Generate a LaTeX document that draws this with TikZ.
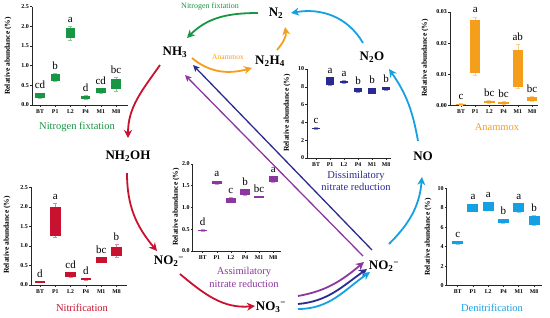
\documentclass[tikz,border=0pt]{standalone}
\usepackage{fontspec}
\setmainfont{Liberation Serif}
\usetikzlibrary{arrows.meta}
\definecolor{cgreen}{RGB}{24,150,68}
\definecolor{corange}{RGB}{245,158,27}
\definecolor{cred}{RGB}{200,18,48}
\definecolor{cpurple}{RGB}{140,55,160}
\definecolor{cnavy}{RGB}{42,42,145}
\definecolor{cblue}{RGB}{22,160,228}
\tikzset{
  chem/.style={font=\fontsize{13}{13}\selectfont\bfseries, inner sep=1pt},
  axisline/.style={line width=0.6pt, black!85},
  ticklab/.style={font=\fontsize{6}{6}\selectfont\bfseries, anchor=east, inner sep=1pt},
  catlab/.style={font=\fontsize{5.8}{5.8}\selectfont\bfseries, anchor=north, inner sep=1pt, yshift=-3pt},
  letlab/.style={font=\fontsize{11}{11}\selectfont, anchor=base, inner sep=0pt, yshift=4pt},
  ylab/.style={font=\fontsize{7.5}{7.5}\selectfont\bfseries, rotate=90, inner sep=0pt},
  ttl/.style={font=\fontsize{10.5}{12.5}\selectfont, align=center, inner sep=0pt},
  arr/.style={line width=1.8pt, -{Stealth[length=8pt,width=8pt,inset=2.5pt]}},
  sarr/.style={line width=1.3pt, -{Stealth[length=6.5pt,width=6pt,inset=1.5pt]}},
}
\newcommand{\yticks}[2]{%
  \foreach \v/\t [count=\k] in {#2}{%
    \draw[axisline] (0,\v) -- ++(-2pt,0pt);
    \node[ticklab] (#1-t\k) at ([xshift=-2pt]0,\v) {\t};
  }}
\newcommand{\cats}[3]{%
  \foreach \c [count=\k from 0] in {BT,P1,L2,P4,M1,M8}{%
    \draw[axisline] ({#2+\k*#3},0) -- ++(0pt,-1.5pt);
    \node[catlab] (#1-c\k) at ({#2+\k*#3},0) {\c};
  }}
\newcommand{\bars}[6]{%
  \foreach \lo/\hi/\wlo/\whi/\lt [count=\k from 0] in {#6}{%
    \pgfmathsetmacro\xx{#3+\k*#4}
    \pgfmathsetmacro\tp{max(\hi,\whi)}
    \draw[#2!50, line width=0.5pt] (\xx,\wlo) -- (\xx,\whi)
      (\xx-2,\wlo) -- (\xx+2,\wlo) (\xx-2,\whi) -- (\xx+2,\whi);
    \fill[#2] (\xx-#5,\lo) rectangle (\xx+#5,\hi);
    \node[letlab] (#1-l\k) at (\xx,\tp) {\lt};
  }}
\begin{document}
\begin{tikzpicture}[x=1pt,y=-1pt]
\useasboundingbox (0,0) rectangle (550,317);

% ---------- Nitrogen fixation chart ----------
\begin{scope}[shift={(32,105)}, y=39.3pt]
  \draw[axisline] (0,2.5) -- (0,0) -- (96,0);
  \yticks{nf}{0/0.0,0.5/0.5,1/1.0,1.5/1.5,2/2.0,2.5/2.5}
  \cats{nf}{8}{15.2}
  \bars{nf}{cgreen}{8}{15.2}{4.7}{0.17/0.31/0.17/0.31/cd,0.62/0.78/0.60/0.80/b,1.71/1.97/1.65/2.01/a,0.15/0.24/0.15/0.24/d,0.31/0.42/0.31/0.42/cd,0.41/0.66/0.36/0.70/bc}
\end{scope}
\node[ylab] (nfy) at (8,56) {Relative abundance (\%)};
\node[ttl, text=cgreen] (nftitle) at (77,127) {Nitrogen fixtation};

% ---------- Nitrification chart ----------
\begin{scope}[shift={(31,285)}, y=39.1pt]
  \draw[axisline] (0,2.5) -- (0,0) -- (96,0);
  \yticks{ni}{0/0.0,0.5/0.5,1/1.0,1.5/1.5,2/2.0,2.5/2.5}
  \cats{ni}{9}{15.3}
  \bars{ni}{cred}{9}{15.3}{5.3}{0.06/0.10/0.06/0.10/d,1.26/1.99/1.22/2.09/a,0.20/0.32/0.19/0.33/cd,0.13/0.17/0.13/0.17/d,0.57/0.71/0.57/0.71/bc,0.74/0.98/0.72/1.04/b}
\end{scope}
\node[ylab] (niy) at (7,235) {Relative abundance (\%)};
\node[ttl, text=cred] (nititle) at (82,308) {Nitrification};

% ---------- Anammox chart ----------
\begin{scope}[shift={(450,105.3)}, y=31.1pt]
  \draw[axisline] (0,3) -- (0,0) -- (88,0);
  \yticks{an}{0/0.00,1/0.01,2/0.02,3/0.03}
  \cats{an}{11}{14.2}
  \bars{an}{corange}{11}{14.2}{5.2}{0/0.05/0/0.05/c,1.04/2.74/0.97/2.84/a,0.08/0.15/0.08/0.15/bc,0.04/0.12/0.04/0.12/bc,0.58/1.77/0.55/1.96/ab,0.13/0.28/0.13/0.28/bc}
\end{scope}
\node[ylab] (any) at (425,58) {Relative abundance (\%)};
\node[ttl, text=corange] (antitle) at (497,127) {Anammox};

% ---------- Assimilatory nitrate reduction chart ----------
\begin{scope}[shift={(192.7,251)}, y=43.5pt]
  \draw[axisline] (0,2) -- (0,0) -- (88,0);
  \yticks{as}{0/0.0,0.5/0.5,1/1.0,1.5/1.5,2/2.0}
  \cats{as}{10}{14.1}
  \bars{as}{cpurple}{10}{14.1}{4.7}{0.455/0.49/0.455/0.49/d,1.53/1.61/1.53/1.61/a,1.11/1.23/1.11/1.23/c,1.29/1.42/1.29/1.42/b,1.23/1.26/1.23/1.26/bc,1.59/1.72/1.59/1.72/a}
\end{scope}
\node[ylab] (asy) at (176,207) {Relative abundance (\%)};
\node[ttl, text=cpurple] (astitle) at (244,277.5) {Assimilatory\\nitrate reduction};

% ---------- Dissimilatory nitrate reduction chart ----------
\begin{scope}[shift={(307.3,158)}, y=8.9pt]
  \draw[axisline] (0,10) -- (0,0) -- (84,0);
  \yticks{di}{0/0,2/2,4/4,6/6,8/8,10/10}
  \cats{di}{8.7}{14}
  \bars{di}{cnavy}{8.7}{14}{4.4}{3.22/3.40/3.22/3.40/c,8.2/9.06/8.2/9.06/a,8.39/8.69/8.39/8.69/a,7.38/7.83/7.38/7.83/b,7.23/7.87/7.23/7.87/b,7.6/8.0/7.6/8.0/b}
\end{scope}
\node[ylab] (diy) at (287,113) {Relative abundance (\%)};
\node[ttl, text=cnavy] (dititle) at (356,181) {Dissimilatory\\nitrate reduction};

% ---------- Denitrification chart ----------
\begin{scope}[shift={(446.7,285.7)}, y=9.74pt]
  \draw[axisline] (0,10) -- (0,0) -- (95,0);
  \yticks{de}{0/0,2/2,4/4,6/6,8/8,10/10}
  \cats{de}{11}{15.26}
  \bars{de}{cblue}{11}{15.26}{5.5}{4.3/4.55/4.3/4.55/c,7.6/8.39/7.6/8.39/a,7.7/8.6/7.7/8.6/a,6.4/6.85/6.4/6.85/b,7.53/8.46/7.53/8.46/a,6.23/7.2/6.23/7.2/b}
\end{scope}
\node[ylab] (dey) at (428,237) {Relative abundance (\%)};
\node[ttl, text=cblue] (detitle) at (492,308) {Denitrification};

% ---------- Compounds ----------
\node[chem] (n2)    at (276,13)  {N\textsubscript{2}};
\node[chem] (nh3)   at (175,52)  {NH\textsubscript{3}};
\node[chem] (n2h4)  at (270,61)  {N\textsubscript{2}H\textsubscript{4}};
\node[chem] (n2o)   at (372,57)  {N\textsubscript{2}O};
\node[chem] (no)    at (423,156) {NO};
\node[chem] (no2r)  at (384,266) {NO\textsubscript{2}\textsuperscript{−}};
\node[chem] (no3)   at (271,307) {NO\textsubscript{3}\textsuperscript{−}};
\node[chem] (no2l)  at (169,261) {NO\textsubscript{2}\textsuperscript{−}};
\node[chem] (nh2oh) at (128,156) {NH\textsubscript{2}OH};

% ---------- Process labels ----------
\node[font=\fontsize{8}{8}\selectfont, text=cgreen, inner sep=0pt] (lnf) at (210,7) {Nitrogen fixtation};
\node[font=\fontsize{7.5}{7.5}\selectfont, text=corange, inner sep=0pt] (lan) at (228,57) {Anammox};

% ---------- Arrows ----------
\draw[arr, cgreen] ([shift={(-18,0)}]n2.center) to[out=180,in=45] ([shift={(12,-14)}]nh3.center);
\draw[arr, corange] ([shift={(17,6)}]nh3.center) to[out=-40,in=195] ([shift={(-18,7)}]n2h4.center);
\draw[arr, corange] ([shift={(7,-11)}]n2h4.center) to[out=50,in=-80] ([shift={(9,14)}]n2.center);

\draw[arr, cblue] ([shift={(-9,-14)}]n2o.center) to[out=120,in=10] ([shift={(15,0)}]n2.center);
\draw[arr, cblue] ([shift={(-5,-15)}]no.center) to[out=100,in=-55] ([shift={(17,12)}]n2o.center);
\draw[arr, cblue] ([shift={(5,-22)}]no2r.center) to[out=45,in=-95] ([shift={(-1,21)}]no.center);

\draw[arr, cred] ([shift={(-15,13)}]nh3.center) to[out=235,in=90] ([shift={(0,-18)}]nh2oh.center);
\draw[arr, cred] ([shift={(-1,17)}]nh2oh.center) to[out=-90,in=130] ([shift={(-12,-10)}]no2l.center);
\draw[arr, cred] ([shift={(11,13)}]no2l.center) to[out=-40,in=185] ([shift={(-16,-1)}]no3.center);

\draw[arr, cpurple] ([shift={(27,-11)}]no3.center) to[out=10,in=220] ([shift={(-20,-4)}]no2r.center);
\draw[arr, cnavy] ([shift={(27,-3)}]no3.center) to[out=5,in=215] ([shift={(-17,3)}]no2r.center);
\draw[arr, cblue] ([shift={(27,2)}]no3.center) to[out=0,in=215] ([shift={(-14,6)}]no2r.center);

\draw[sarr, cnavy] ([shift={(-12,-16)}]no2r.center) -- ([shift={(18,13)}]nh3.center);
\draw[sarr, cpurple] ([shift={(-21,-10)}]no2r.center) -- ([shift={(10,23)}]nh3.center);
\end{tikzpicture}
\end{document}
